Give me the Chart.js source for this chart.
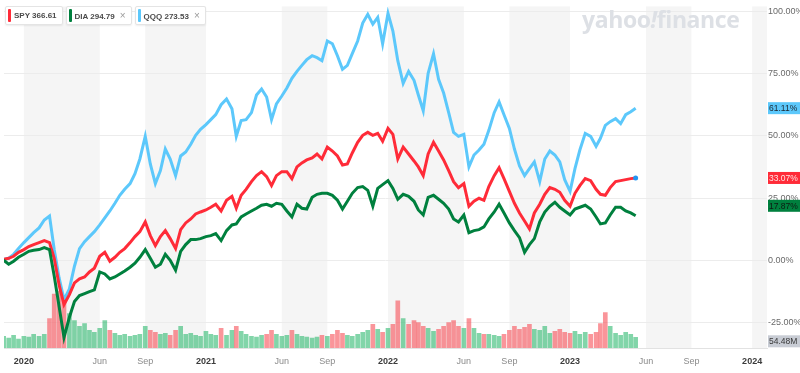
<!DOCTYPE html>
<html>
<head>
<meta charset="utf-8">
<script src="https://cdn.jsdelivr.net/npm/chart.js@4.4.0/dist/chart.umd.min.js"></script>
<style>
  html, body { margin: 0; padding: 0; background: #fff; }
  #wrap { position: relative; width: 800px; height: 373px; overflow: hidden; font-family: 'Liberation Sans', Arial, sans-serif; }
  #legend { position: absolute; left: 5px; top: 6px; display: flex; z-index: 2; }
  .chip { position: relative; height: 17px; line-height: 17px; margin-right: 3px; background: #fff; border: 1px solid #e4e4e4; border-radius: 2px; padding: 0 5px 0 8px; font-size: 8px; font-weight: bold; color: #4a4a4a; box-shadow: 0 1px 2px rgba(0,0,0,0.07); white-space: nowrap; }
  .chip i { position: absolute; left: 2px; top: 2px; bottom: 2px; width: 3px; border-radius: 1px; }
  .chip .x { color: #9a9a9a; font-weight: normal; font-size: 10px; margin-left: 5px; }
  #brand { position: absolute; left: 582px; top: 3px; font-family: 'Open Sans', sans-serif; font-size: 23px; font-weight: bold; color: #dde0e5; letter-spacing: -0.4px; }
  #brand span { font-style: italic; }
</style>
</head>
<body>
<div id="wrap">
  <canvas id="chart" width="800" height="373"></canvas>
  <div id="legend"></div>
  <div id="brand">yahoo<span>!</span>finance</div>
</div>
<script>
// sample dates (1st, 11th, 21st of each month)
var dates = [
  '2019-11-21','2019-12-01','2019-12-11','2019-12-21',
  '2020-01-01','2020-01-11','2020-01-21','2020-02-01','2020-02-11','2020-02-21','2020-03-01','2020-03-11','2020-03-21',
  '2020-04-01','2020-04-11','2020-04-21','2020-05-01','2020-05-11','2020-05-21','2020-06-01','2020-06-11','2020-06-21',
  '2020-07-01','2020-07-11','2020-07-21','2020-08-01','2020-08-11','2020-08-21','2020-09-01','2020-09-11','2020-09-21',
  '2020-10-01','2020-10-11','2020-10-21','2020-11-01','2020-11-11','2020-11-21','2020-12-01','2020-12-11','2020-12-21',
  '2021-01-01','2021-01-11','2021-01-21','2021-02-01','2021-02-11','2021-02-21','2021-03-01','2021-03-11','2021-03-21',
  '2021-04-01','2021-04-11','2021-04-21','2021-05-01','2021-05-11','2021-05-21','2021-06-01','2021-06-11','2021-06-21',
  '2021-07-01','2021-07-11','2021-07-21','2021-08-01','2021-08-11','2021-08-21','2021-09-01','2021-09-11','2021-09-21',
  '2021-10-01','2021-10-11','2021-10-21','2021-11-01','2021-11-11','2021-11-21','2021-12-01','2021-12-11','2021-12-21',
  '2022-01-01','2022-01-11','2022-01-21','2022-02-01','2022-02-11','2022-02-21','2022-03-01','2022-03-11','2022-03-21',
  '2022-04-01','2022-04-11','2022-04-21','2022-05-01','2022-05-11','2022-05-21','2022-06-01','2022-06-11','2022-06-21',
  '2022-07-01','2022-07-11','2022-07-21','2022-08-01','2022-08-11','2022-08-21','2022-09-01','2022-09-11','2022-09-21',
  '2022-10-01','2022-10-11','2022-10-21','2022-11-01','2022-11-11','2022-11-21','2022-12-01','2022-12-11','2022-12-21',
  '2023-01-01','2023-01-11','2023-01-21','2023-02-01','2023-02-11','2023-02-21','2023-03-01','2023-03-11','2023-03-21',
  '2023-04-01','2023-04-11','2023-04-21','2023-05-01','2023-05-11'
];

// % change
var spy = [0.4,0.8,1.6,3.2,4.3,5.5,6.3,7.1,7.9,7.1, 0.8,-9.9,-17.8,-13.8,-9.1,-7.5,-6.7,-4.7,-3.2,1.6,
  3.2,-0.4,1.2,3.2,4.7,7.1,9.5,11.5,15.4,9.9, 5.9,9.5,11.9,8.7,4.7,12.3,15.0,16.6,18.6,19.4,
  20.2,21.3,22.5,19.8,24.1,25.7,20.9,26.1,28.5,31.6, 34.0,35.6,33.6,30.0,34.0,35.6,35.6,32.8,37.5,39.1,
  40.3,41.1,42.7,40.7,45.5,43.9,41.9,38.3,38.7,43.1, 47.4,50.2,51.4,50.2,51.0,47.8,53.0,50.6,40.7,45.5,
  42.7,39.9,37.5,34.0,42.7,47.4,43.9,40.3,36.0,31.6, 29.2,30.8,21.7,23.7,24.9,24.1,29.6,34.0,37.2,32.8,
  27.7,22.9,19.0,15.8,12.6,19.0,22.5,26.5,29.2,28.5, 27.3,24.1,21.7,26.9,30.0,32.8,32.0,28.5,26.5,26.1,
  29.2,31.6,32.0,32.4,32.8,33.07];
var dia = [0.0,-1.6,-0.4,1.2,2.4,3.6,4.0,4.3,5.1,4.3, -6.3,-18.6,-31.0,-22.9,-16.6,-14.2,-13.4,-12.6,-11.9,-4.7,
  -5.5,-7.5,-6.7,-5.5,-4.3,-2.8,-1.2,1.2,4.3,0.8, -2.8,-1.6,2.4,0.0,-4.0,3.6,6.3,8.3,8.3,8.7,
  9.5,9.9,10.7,7.9,11.9,14.2,14.6,17.4,18.6,19.8, 20.9,22.1,22.5,21.7,22.9,22.5,19.8,17.4,22.5,20.9,
  20.6,25.3,26.5,26.9,26.9,26.1,24.1,20.6,23.7,26.9, 29.2,29.6,28.1,21.7,28.9,30.4,32.0,28.9,24.5,26.5,
  25.7,23.7,20.2,18.2,25.3,26.1,24.5,22.9,20.6,16.6, 15.4,18.2,11.1,11.9,12.3,13.4,16.6,19.4,22.5,19.0,
  15.0,11.9,9.1,3.2,6.3,8.7,15.4,19.4,21.7,23.3, 21.3,19.8,18.2,20.6,21.3,22.1,20.6,17.4,14.6,15.0,
  18.2,21.3,21.3,19.8,19.0,17.87];
var qqq = [0.4,0.8,2.4,4.7,7.1,9.1,11.1,13.0,16.2,17.8, 4.3,-7.1,-15.8,-11.5,-2.4,4.7,7.5,9.5,11.5,14.2,
  17.0,19.8,22.9,26.1,28.5,30.8,34.8,40.7,49.8,38.7, 30.8,36.0,44.7,40.7,34.0,41.9,43.5,46.6,50.2,52.6,
  54.5,56.5,58.5,62.5,64.8,60.9,49.8,56.1,56.5,59.3, 66.4,68.8,65.6,56.5,62.8,66.0,69.2,73.1,75.9,78.3,
  80.6,82.2,81.4,80.2,88.1,87.0,82.2,76.7,78.3,83.0, 88.1,95.3,98.8,94.9,97.6,87.0,99.2,92.1,80.2,71.1,
  75.9,72.3,66.4,60.1,75.1,83.0,72.7,67.2,59.3,51.4, 49.8,50.6,37.5,42.3,44.3,46.6,52.2,59.3,63.6,58.5,
  53.0,44.7,37.9,34.0,36.8,39.5,31.6,40.7,43.9,42.3, 39.5,32.4,27.7,36.8,44.3,51.0,49.8,45.8,49.0,54.2,
  55.7,56.9,54.9,58.5,59.7,61.11];
// SPY volume, millions
var volume = [60,50,65,45,60,55,70,60,70,150, 275,290,250,175,140,110,125,90,80,100,
  140,90,75,65,70,60,65,70,110,90, 80,70,75,65,90,110,70,75,65,60,
  85,70,65,100,65,90,110,85,70,60, 55,65,70,90,70,60,65,90,70,60,
  55,50,55,65,60,70,90,75,65,60, 70,80,90,120,95,80,100,120,240,150,
  120,140,130,110,100,85,95,110,130,140, 110,100,150,100,75,70,70,65,60,70,
  90,110,95,105,120,95,90,110,75,85, 95,80,75,85,70,80,70,80,125,180,
  110,75,65,80,70,54.48];

var symbols = ['SPY', 'DIA', 'QQQ'];
var prices = [366.61, 294.79, 273.53];
var colors = ['#ff2b38', '#00803e', '#5cc8fb'];

// x ticks in months since Jan 2020
var tickMonths = [0, 5, 8, 12, 17, 20, 24, 29, 32, 36, 41, 44, 48];
var tickLabels = ['2020', 'Jun', 'Sep', '2021', 'Jun', 'Sep', '2022', 'Jun', 'Sep', '2023', 'Jun', 'Sep', '2024'];
var yTicks = [-25, 0, 25, 50, 75, 100];

function toMonth(d) {
  var p = d.split('-').map(Number);
  var dim = new Date(p[0], p[1], 0).getDate();
  return (p[0] - 2020) * 12 + (p[1] - 1) + (p[2] - 1) / dim;
}
function pts(arr) {
  return dates.map(function(d, i) { return { x: toMonth(d), y: arr[i] }; });
}

var legendHtml = '';
symbols.forEach(function(s, i) {
  legendHtml += '<div class="chip"><i style="background:' + colors[i] + '"></i>' + s + ' ' + prices[i].toFixed(2) +
    (i > 0 ? '<span class="x">×</span>' : '') + '</div>';
});
document.getElementById('legend').innerHTML = legendHtml;

var last = dates.length - 1;
var volColors = volume.map(function(v, i) {
  return (i == 0 || spy[i] >= spy[i - 1]) ? 'rgba(28,178,98,0.55)' : 'rgba(246,78,86,0.6)';
});

var stripes = {
  id: 'stripes',
  beforeDraw: function(chart) {
    var ctx = chart.ctx, a = chart.chartArea, xs = chart.scales.x;
    ctx.save();
    ctx.fillStyle = '#f5f5f5';
    for (var i = 0; i < tickMonths.length; i += 2) {
      var x0 = xs.getPixelForValue(tickMonths[i]);
      var x1 = i + 1 < tickMonths.length ? xs.getPixelForValue(tickMonths[i + 1]) : a.right;
      ctx.fillRect(x0, a.top, Math.min(x1, a.right) - x0, a.bottom - a.top);
    }
    ctx.restore();
  }
};

var endTags = {
  id: 'endTags',
  afterDraw: function(chart) {
    var ctx = chart.ctx, a = chart.chartArea;
    var tags = [
      { v: qqq[last], t: qqq[last].toFixed(2) + '%', bg: colors[2], fg: '#1c2630', ax: 'y', dy: 0 },
      { v: spy[last], t: spy[last].toFixed(2) + '%', bg: colors[0], fg: '#ffe3e3', ax: 'y', dy: 0 },
      { v: dia[last], t: dia[last].toFixed(2) + '%', bg: colors[1], fg: '#0d1a12', ax: 'y', dy: -10 },
      { v: volume[last], t: volume[last].toFixed(2) + 'M', bg: '#c8ccd4', fg: '#3a3a3a', ax: 'yv', dy: 4 }
    ];
    ctx.save();
    ctx.font = '8.5px "Liberation Sans", Arial, sans-serif';
    ctx.textBaseline = 'middle';
    tags.forEach(function(g) {
      var y = chart.scales[g.ax].getPixelForValue(g.v) + g.dy;
      ctx.fillStyle = g.bg;
      ctx.fillRect(a.right + 1, y - 6, 40, 12);
      ctx.fillStyle = g.fg;
      ctx.fillText(g.t, a.right + 2, y + 0.5);
    });
    ctx.restore();
  }
};

var ctx = document.getElementById('chart').getContext('2d');
var config = {
  type: 'line',
  data: {
    datasets: [
      { type: 'bar', data: pts(volume), yAxisID: 'yv', backgroundColor: volColors, barThickness: 4, order: 5 },
      { label: 'QQQ', data: pts(qqq), borderColor: colors[2], borderWidth: 3, pointRadius: 0, tension: 0, order: 3 },
      { label: 'DIA', data: pts(dia), borderColor: colors[1], borderWidth: 3, pointRadius: 0, tension: 0, order: 1 },
      { label: 'SPY', data: pts(spy), borderColor: colors[0], borderWidth: 3, tension: 0, order: 2,
        pointRadius: function(c) { return c.dataIndex == last ? 2.5 : 0; },
        pointBackgroundColor: '#2196f3', pointBorderWidth: 0 }
    ]
  },
  options: {
    responsive: false,
    animation: false,
    layout: { padding: 0 },
    plugins: { legend: { display: false }, tooltip: { enabled: false } },
    scales: {
      x: {
        type: 'linear', min: -1.31, max: 48.98, offset: false,
        afterBuildTicks: function(s) { s.ticks = tickMonths.map(function(v) { return { value: v }; }); },
        afterFit: function(s) { s.height = 25; },
        ticks: {
          autoSkip: false, maxRotation: 0, padding: 0,
          callback: function(v, i) { return tickLabels[i]; },
          font: function(c) { return { family: '"Liberation Sans", Arial, sans-serif', size: 9, weight: tickMonths[c.index] % 12 == 0 ? 'bold' : 'normal' }; },
          color: function(c) { return tickMonths[c.index] % 12 == 0 ? '#3c3c3c' : '#8a8a8a'; }
        },
        grid: { display: false, offset: false },
        border: { display: true, color: '#e2e2e2' }
      },
      y: {
        position: 'right', min: -35.25, max: 102,
        afterBuildTicks: function(s) { s.ticks = yTicks.map(function(v) { return { value: v }; }); },
        afterFit: function(s) { s.width = 33; },
        ticks: {
          padding: 1, color: '#6a6a6a',
          font: { family: '"Liberation Sans", Arial, sans-serif', size: 9 },
          callback: function(v) { return v.toFixed(2) + '%'; }
        },
        grid: { color: '#ececec', drawTicks: false },
        border: { display: false }
      },
      yv: { display: false, min: 0, max: 1740 }
    }
  },
  plugins: [stripes, endTags]
};

var chart = new Chart(ctx, config);
</script>
</body>
</html>
